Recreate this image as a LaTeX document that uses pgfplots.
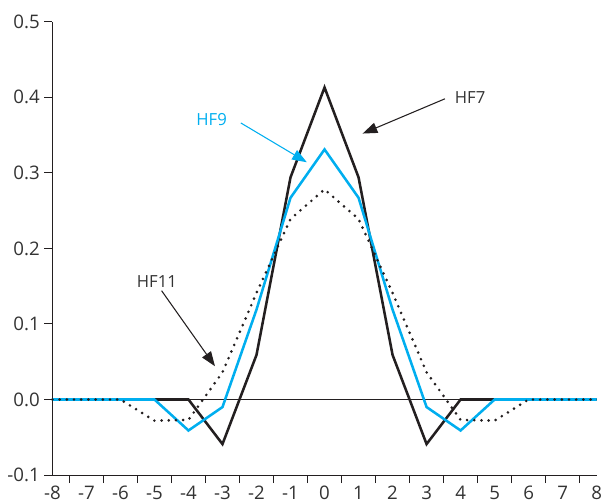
\documentclass[border=0pt]{standalone}
\usepackage{fontspec}
\setmainfont{Open Sans}
\usepackage{pgfplots}
\usepackage{pgfplotstable}
\pgfplotsset{compat=1.18}
\usetikzlibrary{arrows.meta}
\definecolor{hfblue}{RGB}{0,174,239}
\definecolor{hfblack}{RGB}{35,31,32}
\definecolor{txt}{RGB}{51,51,51}

\pgfplotstableread{
x   hf7    hf9    hf11
-8  0      0      0
-7  0      0      0
-6  0      0      0
-5  0      0      -0.028
-4  0      -0.041 -0.027
-3  -0.059 -0.010 0.036
-2  0.059  0.119  0.141
-1  0.294  0.267  0.239
0   0.413  0.331  0.278
1   0.294  0.267  0.239
2   0.059  0.119  0.141
3   -0.059 -0.010 0.036
4   0      -0.041 -0.027
5   0      0      -0.028
6   0      0      0
7   0      0      0
8   0      0      0
}\hfdata

\begin{document}
\begin{tikzpicture}
\begin{axis}[
  name=ax,
  width=408.2pt, height=340pt, scale only axis,
  xmin=-8, xmax=8, ymin=-0.1, ymax=0.5,
  axis x line=bottom, axis y line=left,
  axis line style={-, draw=hfblack, line width=0.75pt},
  tick align=outside,
  xtick={-8,-7,...,8},
  minor xtick={-7.5,-6.5,...,7.5},
  major x tick style={draw=none},
  minor tick length=6pt,
  major tick length=6pt,
  every tick/.style={hfblack, line width=0.75pt},
  ytick={-0.1,0,0.1,0.2,0.3,0.4,0.5},
  yticklabel style={/pgf/number format/.cd, fixed, fixed zerofill, precision=1},
  /pgf/number format/assume math mode=true,
  tick label style={font=\fontsize{14}{16}\selectfont, text=txt},
  xticklabel style={yshift=1pt},
  clip=false,
]
\addplot[hfblack, line width=0.75pt, forget plot] coordinates {(-8,0) (8,0)};
\addplot[hfblack, line width=1.9pt, line join=miter] table[x=x, y=hf7] {\hfdata};
\addplot[hfblue, line width=1.9pt, line join=miter] table[x=x, y=hf9] {\hfdata};
\addplot[hfblack, line width=2.2pt, line cap=round, dash pattern=on 0pt off 5.4pt] table[x=x, y=hf11] {\hfdata};

\node[text=txt, font=\fontsize{12.5}{14}\selectfont] at (axis cs:4.28,0.400) {HF7};
\draw[hfblack, line width=0.8pt, -{Triangle[length=11pt, width=8pt]}] (axis cs:3.54,0.398) -- (axis cs:1.12,0.352);
\node[text=hfblue, font=\fontsize{12.5}{14}\selectfont] at (axis cs:-3.32,0.370) {HF9};
\draw[hfblue, line width=0.8pt, -{Triangle[length=11pt, width=8pt]}] (axis cs:-2.46,0.366) -- (axis cs:-0.52,0.314);
\node[text=txt, font=\fontsize{12.5}{14}\selectfont] at (axis cs:-4.93,0.156) {HF11};
\draw[hfblack, line width=0.8pt, -{Triangle[length=11pt, width=8pt]}] (axis cs:-4.79,0.144) -- (axis cs:-3.22,0.044);
\end{axis}
\pgfresetboundingbox
\path ([shift={(-39.3pt,-21pt)}]ax.south west) rectangle ([shift={(5.5pt,16.3pt)}]ax.north east);
\end{tikzpicture}
\end{document}
